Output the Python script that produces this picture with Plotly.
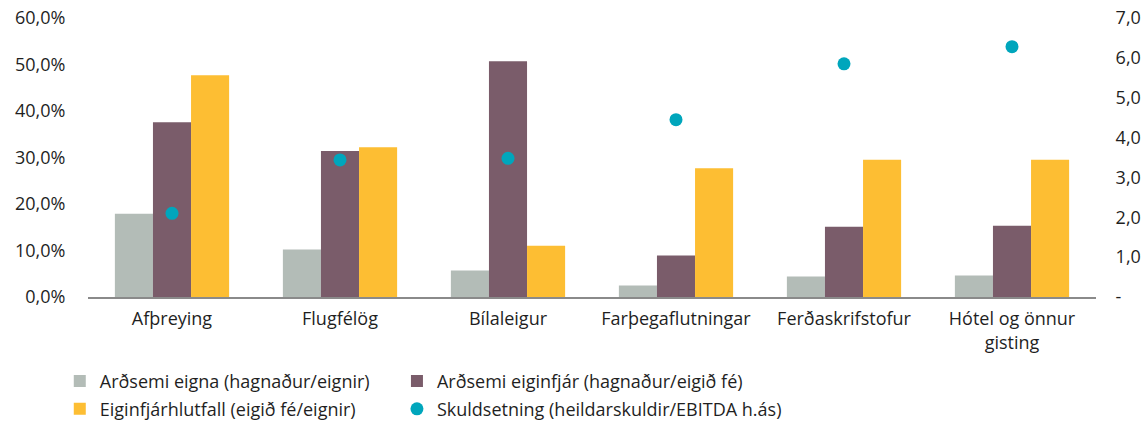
import plotly.graph_objects as go

# Categories and series
categories = ["Afþreying", "Flugfélög", "Bílaleigur", "Farþegaflutningar",
              "Ferðaskrifstofur", "Hótel og önnur<br>gisting"]
ardsemi_eigna = [17.9, 10.2, 5.7, 2.5, 4.4, 4.6]          # %
ardsemi_eiginfjar = [37.6, 31.4, 50.7, 8.9, 15.1, 15.3]   # %
eiginfjarhlutfall = [47.7, 32.2, 11.0, 27.7, 29.5, 29.5]  # %
skuldsetning = [2.1, 3.44, 3.48, 4.45, 5.85, 6.28]        # x EBITDA

left_tickvals = [0, 10, 20, 30, 40, 50, 60]
left_ticktext = ["0,0%", "10,0%", "20,0%", "30,0%", "40,0%", "50,0%", "60,0%"]
right_tickvals = [0, 1, 2, 3, 4, 5, 6, 7]
right_ticktext = ["-", "1,0", "2,0", "3,0", "4,0", "5,0", "6,0", "7,0"]

names = ["Arðsemi eigna (hagnaður/eignir)",
         "Arðsemi eiginfjár (hagnaður/eigið fé)",
         "Eiginfjárhlutfall (eigið fé/eignir)",
         "Skuldsetning (heildarskuldir/EBITDA h.ás)"]

GREY = "#B3BCB7"
PURPLE = "#7A5C6A"
YELLOW = "#FDBE33"
CYAN = "#00A6BC"
FONT = "Open Sans"
TXT = "#1f1f1f"
FS = 18

fig = go.Figure()
fig.add_trace(go.Bar(x=categories, y=ardsemi_eigna, name=names[0],
                     marker=dict(color=GREY, line_width=0), legend="legend"))
fig.add_trace(go.Bar(x=categories, y=ardsemi_eiginfjar, name=names[1],
                     marker=dict(color=PURPLE, line_width=0), legend="legend2"))
fig.add_trace(go.Bar(x=categories, y=eiginfjarhlutfall, name=names[2],
                     marker=dict(color=YELLOW, line_width=0), legend="legend3"))
fig.add_trace(go.Scatter(x=categories, y=skuldsetning, name=names[3], yaxis="y2",
                         mode="markers", marker=dict(color=CYAN, size=13),
                         legend="legend4"))

# One legend per entry, laid out as a 2 x 2 grid under the plot
legend_common = dict(orientation="h", xanchor="left", yanchor="middle",
                     font=dict(family=FONT, size=FS, color=TXT),
                     itemwidth=30, bgcolor="rgba(0,0,0,0)")
COL1, COL2 = -0.028, 0.3065
ROW1, ROW2 = -0.302, -0.402

fig.update_layout(
    width=1144, height=422,
    margin=dict(l=88, r=48, t=18, b=124.5, autoexpand=False),
    paper_bgcolor="white", plot_bgcolor="white",
    barmode="group", bargap=0.32, bargroupgap=0,
    font=dict(family=FONT, size=FS, color=TXT),
    showlegend=True,
    legend=dict(x=COL1, y=ROW1, **legend_common),
    legend2=dict(x=COL2, y=ROW1, **legend_common),
    legend3=dict(x=COL1, y=ROW2, **legend_common),
    legend4=dict(x=COL2, y=ROW2, **legend_common),
    xaxis=dict(showgrid=False, showline=True, linecolor="#8a8a8a", linewidth=1.5,
               ticks="outside", ticklen=5, tickcolor="rgba(0,0,0,0)",
               automargin=False,
               tickfont=dict(family=FONT, size=FS, color=TXT)),
    yaxis=dict(range=[0, 60], tickvals=left_tickvals, ticktext=left_ticktext,
               showgrid=False, zeroline=False, showline=False, automargin=False,
               ticks="outside", ticklen=18, tickcolor="rgba(0,0,0,0)",
               tickfont=dict(family=FONT, size=FS, color=TXT)),
    yaxis2=dict(range=[0, 7], tickvals=right_tickvals, ticktext=right_ticktext,
                overlaying="y", side="right", showgrid=False, zeroline=False,
                showline=False, ticks="outside", ticklen=15, automargin=False,
                tickcolor="rgba(0,0,0,0)",
                tickfont=dict(family=FONT, size=FS, color=TXT)),
)

fig.write_html("out.html")
